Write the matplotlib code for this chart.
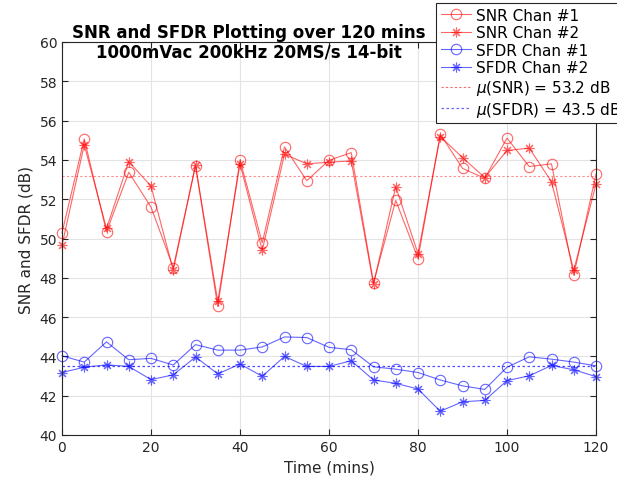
import matplotlib
matplotlib.use("Agg")
import matplotlib.pyplot as plt
import numpy as np

time_min = [0, 5, 10, 15, 20, 25, 30, 35, 40, 45, 50, 55, 60, 65, 70, 75, 80, 85, 90, 95, 100, 105, 110, 115, 120]
snr_ch1 = [50.29, 55.07, 50.34, 53.37, 51.60, 48.52, 53.69, 46.54, 54.00, 49.78, 54.66, 52.94, 53.98,
           54.37, 47.74, 51.94, 48.98, 55.31, 53.57, 53.06, 55.11, 53.66, 53.80, 48.13, 53.27]
snr_ch2 = [49.66, 54.77, 50.51, 53.91, 52.67, 48.38, 53.74, 46.80, 53.80, 49.40, 54.29, 53.80, 53.88,
           53.95, 47.67, 52.64, 49.23, 55.19, 54.12, 53.10, 54.48, 54.60, 52.89, 48.38, 52.76]
sfdr_ch1 = [44.03, 43.71, 44.74, 43.83, 43.90, 43.56, 44.60, 44.32, 44.32, 44.48, 44.99, 44.96, 44.46,
            44.34, 43.47, 43.35, 43.18, 42.80, 42.50, 42.32, 43.45, 43.98, 43.86, 43.71, 43.52]
sfdr_ch2 = [43.18, 43.45, 43.57, 43.49, 42.82, 43.06, 43.97, 43.11, 43.61, 42.99, 44.00, 43.49, 43.49,
            43.78, 42.80, 42.63, 42.34, 41.21, 41.69, 41.76, 42.77, 43.01, 43.54, 43.32, 42.97]
mean_snr = 53.2
mean_sfdr = 43.5

fig = plt.figure(figsize=(6.17, 4.85), dpi=100)
ax = fig.add_axes([62/617, 1-436/485, (596-62)/617, (436-43)/485])

red = (1.0, 0.0, 0.0)
blue = (0.0, 0.0, 1.0)
ast = (8, 2, 0)
common = dict(alpha=0.6, lw=0.8, clip_on=False)
ax.plot(time_min, snr_ch1, '-', marker='o', color=red, ms=7.5, mfc='none', mew=0.8, label='SNR Chan #1', **common)
ax.plot(time_min, snr_ch2, '-', marker=ast, color=red, ms=7, mew=0.8, label='SNR Chan #2', **common)
ax.plot(time_min, sfdr_ch1, '-', marker='o', color=blue, ms=7.5, mfc='none', mew=0.8, label='SFDR Chan #1', **common)
ax.plot(time_min, sfdr_ch2, '-', marker=ast, color=blue, ms=7, mew=0.8, label='SFDR Chan #2', **common)
ax.plot([time_min[0], time_min[-1]], [mean_snr, mean_snr], linestyle=(0, (2, 2)), color=red, alpha=0.45, lw=0.8,
        label=r'$\mu$(SNR) = %.1f dB' % mean_snr)
ax.plot([time_min[0], time_min[-1]], [mean_sfdr, mean_sfdr], linestyle=(0, (2, 2)), color=blue, alpha=0.7, lw=0.9,
        label=r'$\mu$(SFDR) = %.1f dB' % mean_sfdr)

ax.set_xlim(0, 120)
ax.set_ylim(40, 60)
ax.set_xticks(np.arange(0, 121, 20))
ax.set_yticks(np.arange(40, 61, 2))
ax.grid(True, color='#e3e3e3', lw=0.8)
ax.set_axisbelow(True)
ax.tick_params(direction='in', labelsize=10, colors='#262626', length=4, top=True, right=True)
for s in ax.spines.values():
    s.set_color('#262626')
    s.set_linewidth(0.8)
ax.set_xlabel('Time (mins)', fontsize=11, color='#262626')
ax.set_ylabel('SNR and SFDR (dB)', fontsize=11, color='#262626')

fig.text(249/617, 1-43/485, 'SNR and SFDR Plotting over 120 mins\n1000mVac 200kHz 20MS/s 14-bit',
         ha='center', va='center', fontsize=12, fontweight='bold', color='black', linespacing=1.1)

leg = ax.legend(loc='upper left', bbox_to_anchor=(436/617, 1-4/485), bbox_transform=fig.transFigure,
                fontsize=11, frameon=True, fancybox=False, framealpha=1, edgecolor='#262626',
                handlelength=2.0, handletextpad=0.3, labelspacing=0.17, borderpad=0.3, borderaxespad=0)
leg.get_frame().set_linewidth(0.8)
for h in leg.legend_handles:
    h.set_alpha(0.6)

fig.savefig('out.png', dpi=100)
